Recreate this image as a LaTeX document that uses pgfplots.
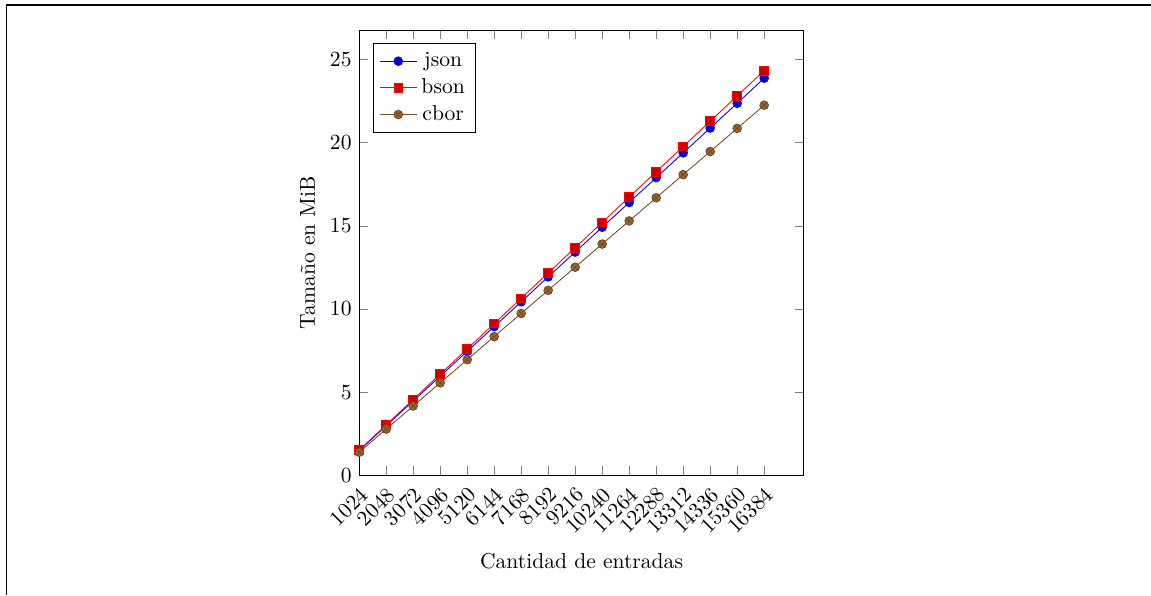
\documentclass[border=0pt]{standalone}
\usepackage{pgfplots}
\pgfplotsset{compat=1.18}
\begin{document}
\begin{tikzpicture}
\begin{axis}[
  at={(0pt,0pt)}, anchor=south west,
  scale only axis,
  width=205.9pt, height=206.2pt,
  xmin=1024, xmax=17890,
  ymin=0, ymax=26.76,
  scaled x ticks=false,
  xtick={1024,2048,3072,4096,5120,6144,7168,8192,9216,10240,11264,12288,13312,14336,15360,16384},
  xticklabels={1024,2048,3072,4096,5120,6144,7168,8192,9216,10240,11264,12288,13312,14336,15360,16384},
  xticklabel style={rotate=45, anchor=north east},
  ytick={0,5,10,15,20,25},
  xlabel={Cantidad de entradas},
  ylabel={Tamaño en MiB},
  legend pos=north west,
]
\addplot coordinates {(1024,1.49)(2048,2.98)(3072,4.47)(4096,5.96)(5120,7.45)(6144,8.94)(7168,10.43)(8192,11.93)(9216,13.42)(10240,14.91)(11264,16.40)(12288,17.89)(13312,19.38)(14336,20.87)(15360,22.36)(16384,23.87)};
\addlegendentry{json}
\addplot coordinates {(1024,1.52)(2048,3.04)(3072,4.56)(4096,6.08)(5120,7.60)(6144,9.12)(7168,10.64)(8192,12.16)(9216,13.68)(10240,15.20)(11264,16.72)(12288,18.24)(13312,19.76)(14336,21.28)(15360,22.80)(16384,24.32)};
\addlegendentry{bson}
\addplot coordinates {(1024,1.39)(2048,2.78)(3072,4.17)(4096,5.56)(5120,6.95)(6144,8.34)(7168,9.73)(8192,11.12)(9216,12.51)(10240,13.90)(11264,15.29)(12288,16.68)(13312,18.07)(14336,19.46)(15360,20.85)(16384,22.24)};
\addlegendentry{cbor}
\end{axis}
\draw[line width=0.5pt] (-163.5pt,-55.4pt) -- (-163.5pt,217.8pt) -- (366.6pt,217.8pt);
\pgfresetboundingbox
\useasboundingbox (-166.3pt,-55.4pt) rectangle (366.6pt,220.1pt);
\end{tikzpicture}
\end{document}
